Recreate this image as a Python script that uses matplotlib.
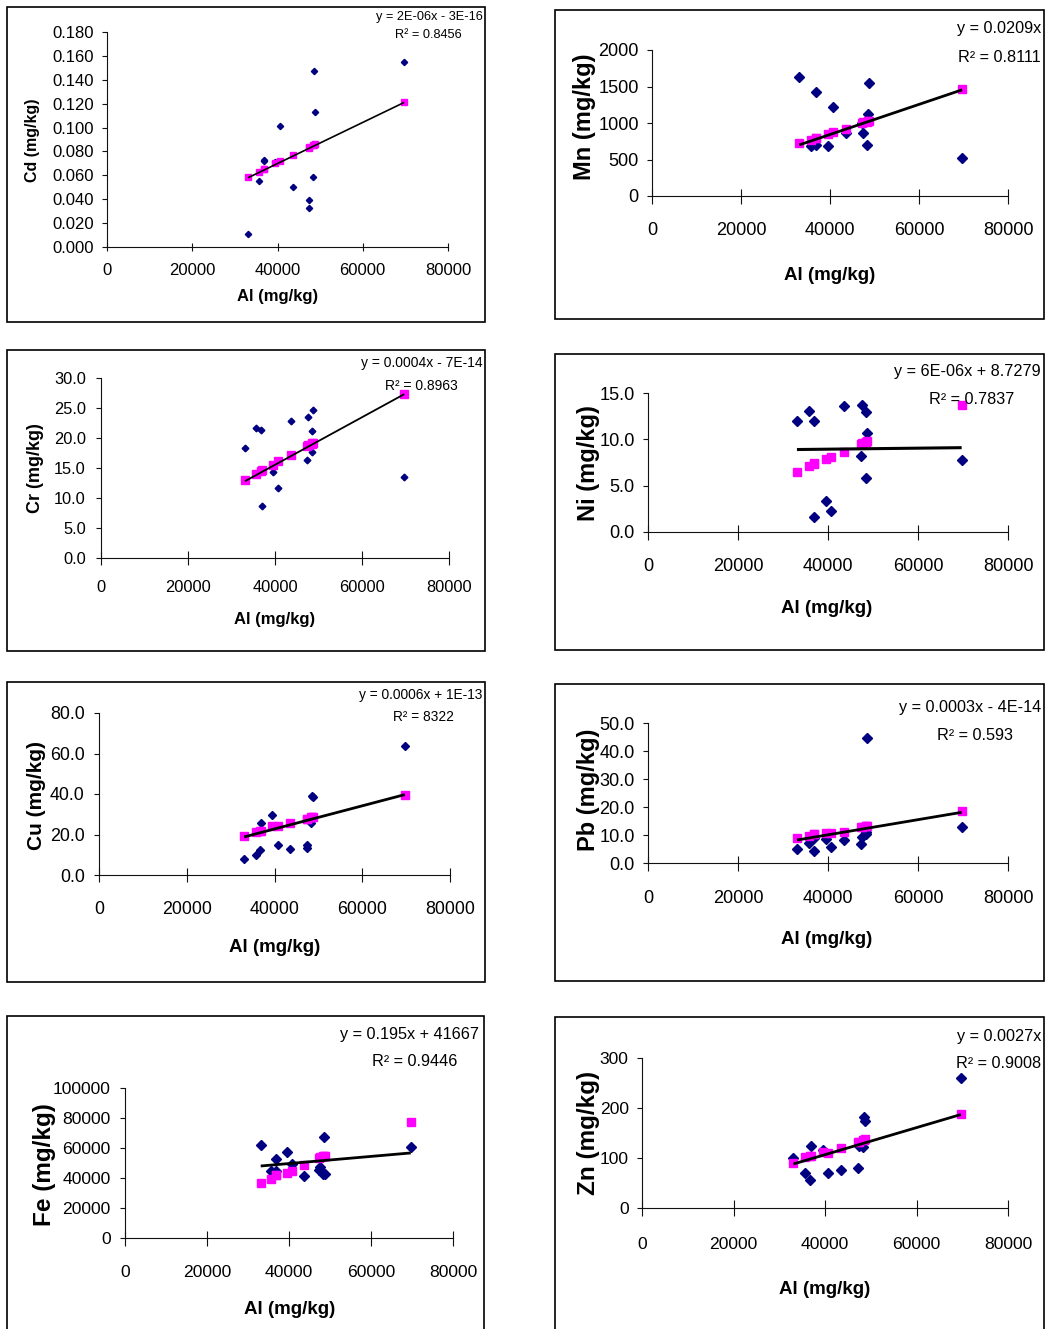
import numpy as np
import matplotlib
matplotlib.use("Agg")
import matplotlib.pyplot as plt
from matplotlib import font_manager
from matplotlib.patches import Rectangle

W, H = 1045, 1329

# -------------------------------------------------
# Datos (Al en mg/kg, 13 muestras)
# -------------------------------------------------
al = [33100, 35700, 36800, 36900, 39500, 40700, 43600,
      47300, 47500, 48400, 48500, 48700, 69700]
trend_al = [33100, 69700]

cd_obs = [0.011, 0.055, 0.072, 0.073, 0.071, 0.101, 0.050,
          0.033, 0.039, 0.059, 0.147, 0.113, 0.155]
cd_pred = [0.059, 0.063, 0.065, 0.065, 0.070, 0.072, 0.077,
           0.083, 0.084, 0.085, 0.085, 0.086, 0.121]
cd_trend = [0.058, 0.121]

mn_obs = [1630, 690, 700, 1420, 680, 1220, 860,
          1000, 860, 700, 1120, 1550, 520]
mn_pred = [720, 770, 790, 790, 850, 880, 920,
           1000, 1010, 1020, 1030, 1030, 1470]
mn_trend = [700, 1455]

cr_obs = [18.4, 21.6, 21.3, 8.6, 14.4, 11.6, 22.9,
          16.3, 23.5, 17.6, 21.1, 24.7, 13.5]
cr_pred = [13.0, 14.0, 14.5, 14.6, 15.5, 16.1, 17.2,
           18.6, 18.8, 19.0, 19.1, 19.2, 27.3]
cr_trend = [12.8, 27.3]

ni_obs = [12.0, 13.1, 1.6, 12.0, 3.3, 2.3, 13.6,
          8.2, 13.7, 5.8, 13.0, 10.7, 7.8]
ni_pred = [6.5, 7.1, 7.3, 7.4, 7.9, 8.1, 8.6,
           9.5, 9.6, 9.7, 9.7, 9.8, 13.7]
ni_trend = [8.9, 9.1]

cu_obs = [7.9, 10.0, 12.5, 25.7, 29.5, 15.0, 12.8,
          15.0, 13.3, 25.7, 39.2, 38.5, 63.5]
cu_pred = [19.1, 21.1, 21.6, 21.7, 24.0, 24.4, 25.7,
           27.7, 27.8, 28.5, 28.5, 28.6, 39.7]
cu_trend = [18.8, 39.7]

pb_obs = [4.9, 7.2, 4.3, 9.0, 8.6, 5.6, 8.2,
          6.8, 9.4, 10.5, 11.0, 44.7, 12.9]
pb_pred = [8.8, 9.6, 10.3, 10.3, 10.8, 10.8, 11.2,
           12.9, 13.0, 13.2, 13.2, 13.3, 18.6]
pb_trend = [8.2, 18.1]

fe_obs = [62200, 45000, 52400, 45000, 57300, 49600, 41300,
          45100, 47300, 42400, 67300, 42500, 60700]
fe_pred = [36900, 39600, 41800, 42000, 43300, 44700, 48400,
           53300, 54000, 54700, 54700, 55000, 77300]
fe_trend = [48000, 56700]

zn_obs = [100, 70, 57, 125, 117, 70, 77,
          80, 125, 122, 182, 174, 260]
zn_pred = [91, 102, 104, 105, 112, 111, 120,
           132, 133, 137, 137, 138, 189]
zn_trend = [88, 187]

x_ticks = [0, 20000, 40000, 60000, 80000]

# -------------------------------------------------
# Fuentes
# -------------------------------------------------
names = {f.name for f in font_manager.fontManager.ttflist}
HAS_NARROW = "Liberation Sans Narrow" in names
NARROW = "Liberation Sans Narrow" if HAS_NARROW else "Liberation Sans"
K = 1.0 if HAS_NARROW else 0.9
ARIAL = "Liberation Sans"

NAVY = "#000080"
PINK = "#ff00ff"

# panel: marco, ejes (x0, x80000, y0, ymax en px), textos
panels = [
    dict(obs=cd_obs, pred=cd_pred, trend=cd_trend, ymax=0.18, ystep=0.02, yfmt="{:.3f}",
         frame=(7, 7, 485, 322), axes=(107, 448, 247, 32), narrow=False, tsize=12,
         ylabel="Cd (mg/kg)", ylab=(33, 140), ylsize=11.5, xlab=(278, 296), xlsize=12,
         eq="y = 2E-06x - 3E-16", eqxy=(483, 17), r2="R² = 0.8456", r2xy=(462, 35), eqsize=9.2,
         msd=3.2, mss=5, lw=1.2, xtl=6, xpad=8.6, ypad=5.8),
    dict(obs=mn_obs, pred=mn_pred, trend=mn_trend, ymax=2000, ystep=500, yfmt="{:.0f}",
         frame=(555, 10, 1044, 319), axes=(652, 1008, 196, 50), narrow=True, tsize=14.5,
         ylabel="Mn (mg/kg)", ylab=(585, 117), ylsize=17, xlab=(830, 276), xlsize=15,
         eq="y = 0.0209x", eqxy=(1041, 29), r2="R² = 0.8111", r2xy=(1041, 57), eqsize=13,
         msd=4.6, mss=6.2, lw=2.0, xtl=10.8, xpad=13.3, ypad=5.8),
    dict(obs=cr_obs, pred=cr_pred, trend=cr_trend, ymax=30, ystep=5, yfmt="{:.1f}",
         frame=(7, 350, 485, 651), axes=(101, 449, 558, 378), narrow=False, tsize=11.8,
         ylabel="Cr (mg/kg)", ylab=(36, 468), ylsize=13, xlab=(275, 620), xlsize=12,
         eq="y = 0.0004x - 7E-14", eqxy=(483, 363), r2="R² = 0.8963", r2xy=(458, 386), eqsize=10,
         msd=3.4, mss=5.2, lw=1.3, xtl=9.6, xpad=10.8, ypad=7.2),
    dict(obs=ni_obs, pred=ni_pred, trend=ni_trend, ymax=15, ystep=5, yfmt="{:.1f}",
         frame=(555, 354, 1044, 650), axes=(648, 1008, 532, 393), narrow=True, tsize=14.5,
         ylabel="Ni (mg/kg)", ylab=(588, 463), ylsize=17, xlab=(827, 608), xlsize=15,
         eq="y = 6E-06x + 8.7279", eqxy=(1041, 371), r2="R² = 0.7837", r2xy=(1014, 399), eqsize=13,
         msd=4.6, mss=6.2, lw=2.2, xtl=10.8, xpad=13.3, ypad=5.8),
    dict(obs=cu_obs, pred=cu_pred, trend=cu_trend, ymax=80, ystep=20, yfmt="{:.1f}",
         frame=(7, 682, 485, 982), axes=(99, 450, 875, 713), narrow=True, tsize=14.3,
         ylabel="Cu (mg/kg)", ylab=(37, 795), ylsize=15, xlab=(275, 947), xlsize=15,
         eq="y = 0.0006x + 1E-13", eqxy=(482, 695), r2="R² = 8322", r2xy=(454, 717), eqsize=11,
         msd=4.4, mss=6.2, lw=2.0, xtl=10.3, xpad=13.5, ypad=6.5),
    dict(obs=pb_obs, pred=pb_pred, trend=pb_trend, ymax=50, ystep=10, yfmt="{:.1f}",
         frame=(555, 684, 1044, 981), axes=(648, 1008, 863, 723), narrow=True, tsize=14.5,
         ylabel="Pb (mg/kg)", ylab=(588, 790), ylsize=17, xlab=(827, 940), xlsize=15,
         eq="y = 0.0003x - 4E-14", eqxy=(1041, 708), r2="R² = 0.593", r2xy=(1013, 735), eqsize=13,
         msd=4.6, mss=6.2, lw=2.0, xtl=10.8, xpad=14, ypad=5.8),
    dict(obs=fe_obs, pred=fe_pred, trend=fe_trend, ymax=100000, ystep=20000, yfmt="{:.0f}",
         frame=(7, 1016, 484, 1340), axes=(125, 453, 1238, 1088), narrow=True, tsize=14,
         ylabel="Fe (mg/kg)", ylab=(45, 1165), ylsize=17.5, xlab=(290, 1310), xlsize=15,
         eq="y = 0.195x + 41667", eqxy=(479, 1034), r2="R² = 0.9446", r2xy=(457, 1062), eqsize=13,
         msd=4.6, mss=6.2, lw=2.0, xtl=10.8, xpad=14, ypad=6.5),
    dict(obs=zn_obs, pred=zn_pred, trend=zn_trend, ymax=300, ystep=100, yfmt="{:.0f}",
         frame=(555, 1017, 1044, 1340), axes=(642, 1008, 1208, 1058), narrow=True, tsize=14,
         ylabel="Zn (mg/kg)", ylab=(588, 1133), ylsize=17.5, xlab=(825, 1290), xlsize=15,
         eq="y = 0.0027x", eqxy=(1041, 1037), r2="R² = 0.9008", r2xy=(1041, 1064), eqsize=13,
         msd=4.6, mss=6.2, lw=2.0, xtl=11.5, xpad=15, ypad=5.8),
]


def fx(px):
    return px / W


def fy(py):
    return 1 - py / H


fig = plt.figure(figsize=(W / 100, H / 100), dpi=100)
fig.patch.set_facecolor("white")

for p in panels:
    l, t, r, b = p["frame"]
    fig.add_artist(Rectangle((fx(l), fy(b)), (r - l) / W, (b - t) / H,
                             transform=fig.transFigure, fill=False,
                             ec="black", lw=1.2))

    x0, x1, y0, y1 = p["axes"]
    ax = fig.add_axes([fx(x0), fy(y0), (x1 - x0) / W, (y0 - y1) / H])
    ax.patch.set_alpha(0)
    ax.set_xlim(0, 80000)
    ax.set_ylim(0, p["ymax"])
    for s in ("top", "right"):
        ax.spines[s].set_visible(False)
    for s in ("left", "bottom"):
        ax.spines[s].set_linewidth(0.8)
        ax.spines[s].set_color("#111111")

    fam = [NARROW, "DejaVu Sans"] if p["narrow"] else [ARIAL, "DejaVu Sans"]
    ts = p["tsize"] * (K if p["narrow"] else 1.0)

    yt = np.arange(0, p["ymax"] + p["ystep"] / 2, p["ystep"])
    ax.set_yticks(yt)
    ax.set_yticklabels([p["yfmt"].format(v) for v in yt], family=fam, fontsize=ts)
    ax.set_xticks(x_ticks)
    ax.set_xticklabels([str(v) for v in x_ticks], family=fam, fontsize=ts)
    ax.tick_params(axis="x", direction="inout", length=p["xtl"], width=0.8,
                   pad=p["xpad"], color="#111111")
    ax.tick_params(axis="y", direction="out", length=3.8, width=0.8,
                   pad=p["ypad"], color="#111111")

    ax.plot(al, p["obs"], ls="none", marker="D", ms=p["msd"], color=NAVY,
            mec=NAVY, clip_on=False, zorder=3)
    ax.plot(al, p["pred"], ls="none", marker="s", ms=p["mss"], color=PINK,
            mec=PINK, clip_on=False, zorder=4)
    ax.plot(trend_al, p["trend"], color="black", lw=p["lw"],
            solid_capstyle="butt", clip_on=False, zorder=5)

    # rótulos
    fig.text(fx(p["ylab"][0]), fy(p["ylab"][1]), p["ylabel"], rotation=90,
             ha="center", va="center", family=[ARIAL, "DejaVu Sans"],
             fontweight="bold", fontsize=p["ylsize"])
    xl_fam = [NARROW, "DejaVu Sans"] if p["narrow"] else [ARIAL, "DejaVu Sans"]
    xl_size = p["xlsize"] * (K if p["narrow"] else 1.0)
    fig.text(fx(p["xlab"][0]), fy(p["xlab"][1]), "Al (mg/kg)", ha="center",
             va="center", family=xl_fam, fontweight="bold", fontsize=xl_size)

    eq_size = p["eqsize"] * (K if p["narrow"] else 1.0)
    fig.text(fx(p["eqxy"][0]), fy(p["eqxy"][1]), p["eq"], ha="right",
             va="center", family=fam, fontsize=eq_size)
    fig.text(fx(p["r2xy"][0]), fy(p["r2xy"][1]), p["r2"], ha="right",
             va="center", family=fam, fontsize=eq_size)

fig.savefig("out.png", dpi=100)
